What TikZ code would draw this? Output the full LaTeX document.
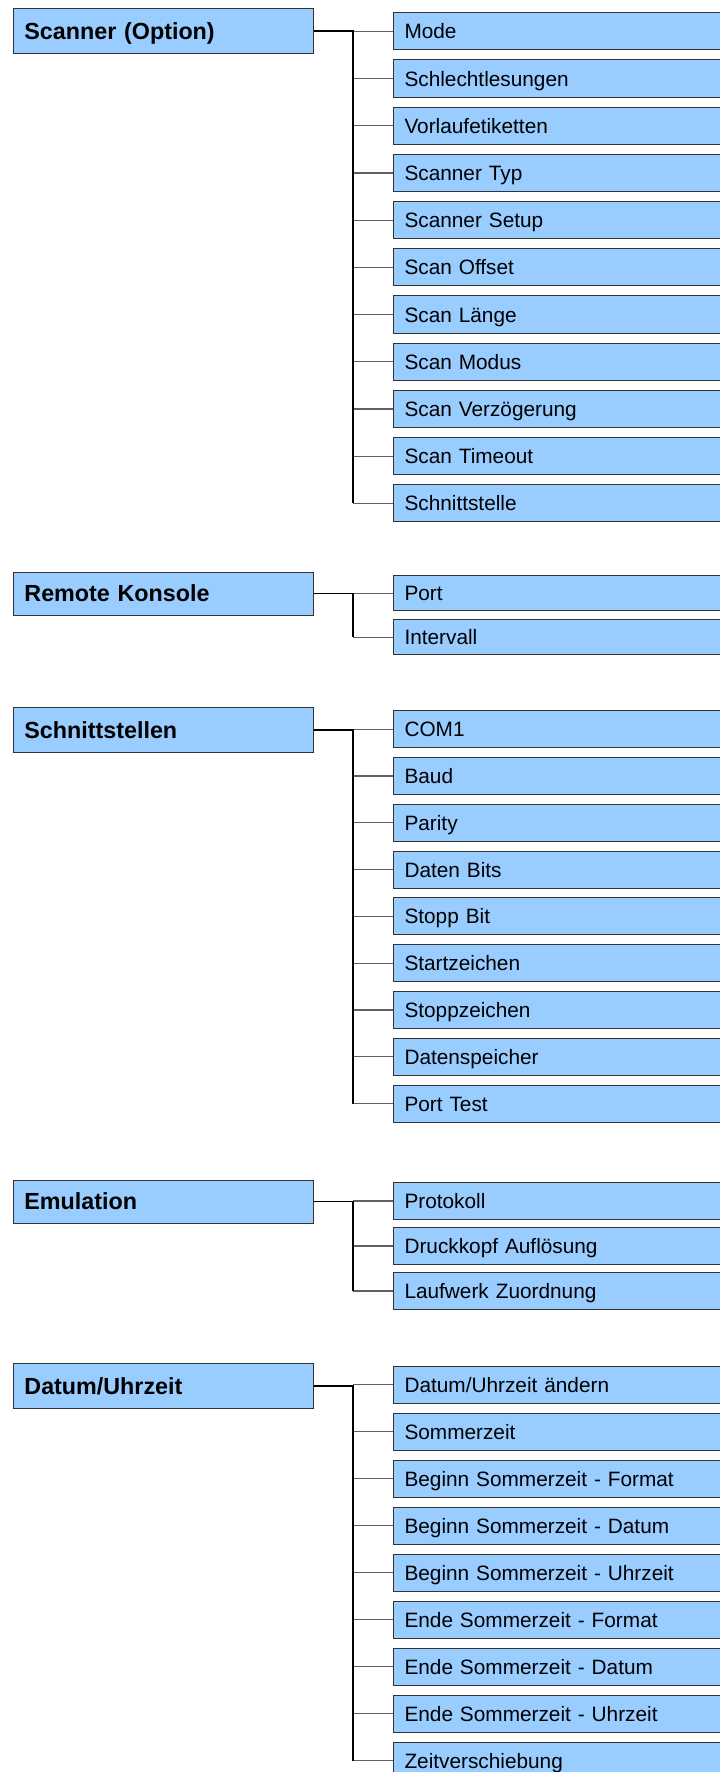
\documentclass[tikz,border=0pt]{standalone}
\usepackage{fontspec}
\setmainfont{Liberation Sans}
\usetikzlibrary{positioning}
\definecolor{MenuBlue}{HTML}{99CCFF}
\definecolor{EdgeGray}{HTML}{333333}
\definecolor{BranchGray}{HTML}{606060}

\begin{document}
\begin{tikzpicture}[x=1pt, y=-1pt, every node/.style={align=left},
  parentbox/.style={draw=EdgeGray, fill=MenuBlue, line width=0.9pt, anchor=west,
    text width=278pt, inner xsep=11.3pt, inner ysep=0pt, text height=16.5pt, text depth=0pt,
    font=\fontsize{23.3}{28}\selectfont\bfseries},
  childbox/.style={draw=EdgeGray, fill=MenuBlue, line width=1pt, anchor=west,
    text width=308pt, inner xsep=10.7pt, inner ysep=0pt, text height=15pt, text depth=0pt,
    font=\fontsize{20.8}{25}\selectfont},
  trunk/.style={line width=1.5pt, black},
  branch/.style={line width=1.2pt, BranchGray}]
  \clip (0,0) rectangle (720,1772);

  % Scanner (Option)
  \node[parentbox, minimum height=45pt] (scanner) at (12.7,30.8) {Scanner (Option)};
  \coordinate (scanner-j) at (353,30.8);
  \foreach \txt [count=\i] in {Mode, Schlechtlesungen, Vorlaufetiketten, Scanner Typ,
      Scanner Setup, Scan Offset, Scan Länge, Scan Modus, Scan Verzögerung, Scan Timeout, Schnittstelle}
    \node[childbox, minimum height=37.3pt] (scanner-\i) at (393.3,{31.3+(\i-1)*47.2}) {\txt};
  \foreach \i in {1,...,11}
    \draw[branch] (scanner-j |- scanner-\i.west) -- (scanner-\i.west);
  \draw[trunk] (scanner.east) -- (scanner-j) -- (scanner-j |- scanner-11.west);

  % Remote Konsole
  \node[parentbox, minimum height=42.7pt] (remote) at (12.7,593.7) {Remote Konsole};
  \coordinate (remote-j) at (353,593.7);
  \foreach \txt [count=\i] in {Port, Intervall}
    \node[childbox, minimum height=35.3pt] (remote-\i) at (393.3,{593.3+(\i-1)*43.8}) {\txt};
  \foreach \i in {1,2}
    \draw[branch] (remote-j |- remote-\i.west) -- (remote-\i.west);
  \draw[trunk] (remote.east) -- (remote-j) -- (remote-j |- remote-2.west);

  % Schnittstellen
  \node[parentbox, minimum height=45pt] (ports) at (12.7,729.8) {Schnittstellen};
  \coordinate (ports-j) at (353,729.8);
  \foreach \txt [count=\i] in {COM1, Baud, Parity, Daten Bits, Stopp Bit, Startzeichen,
      Stoppzeichen, Datenspeicher, Port Test}
    \node[childbox, minimum height=37pt] (ports-\i) at (393.3,{729.2+(\i-1)*46.8}) {\txt};
  \foreach \i in {1,...,9}
    \draw[branch] (ports-j |- ports-\i.west) -- (ports-\i.west);
  \draw[trunk] (ports.east) -- (ports-j) -- (ports-j |- ports-9.west);

  % Emulation
  \node[parentbox, minimum height=43pt] (emu) at (12.7,1201.5) {Emulation};
  \coordinate (emu-j) at (353,1201.5);
  \foreach \txt [count=\i] in {Protokoll, Druckkopf Auflösung, Laufwerk Zuordnung}
    \node[childbox, minimum height=36.3pt] (emu-\i) at (393.3,{1201+(\i-1)*45}) {\txt};
  \foreach \i in {1,2,3}
    \draw[branch] (emu-j |- emu-\i.west) -- (emu-\i.west);
  \draw[trunk] (emu.east) -- (emu-j) -- (emu-j |- emu-3.west);

  % Datum/Uhrzeit
  \node[parentbox, minimum height=45pt] (clock) at (12.7,1385.8) {Datum/Uhrzeit};
  \coordinate (clock-j) at (353,1385.8);
  \foreach \txt [count=\i] in {{Datum/Uhrzeit ändern}, Sommerzeit, Beginn Sommerzeit - Format,
      Beginn Sommerzeit - Datum, Beginn Sommerzeit - Uhrzeit, Ende Sommerzeit - Format,
      Ende Sommerzeit - Datum, Ende Sommerzeit - Uhrzeit, Zeitverschiebung}
    \node[childbox, minimum height=37.3pt] (clock-\i) at (393.3,{1384.7+(\i-1)*47}) {\txt};
  \foreach \i in {1,...,9}
    \draw[branch] (clock-j |- clock-\i.west) -- (clock-\i.west);
  \draw[trunk] (clock.east) -- (clock-j) -- (clock-j |- clock-9.west);
\end{tikzpicture}
\end{document}
